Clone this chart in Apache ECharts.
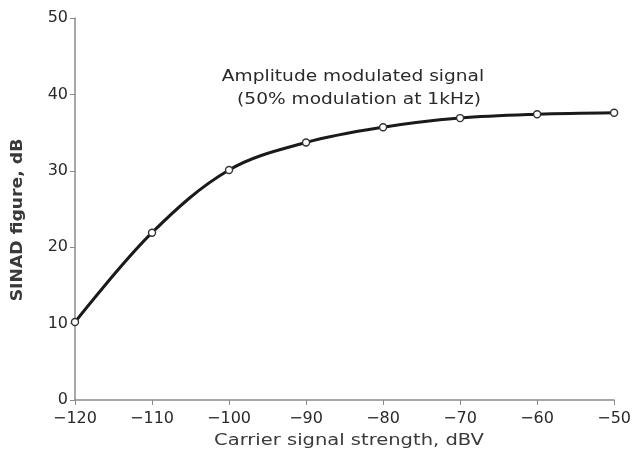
<!DOCTYPE html>
<html>
<head>
<meta charset="utf-8">
<script src="https://cdn.jsdelivr.net/npm/echarts@6/dist/echarts.min.js"></script>
<style>
  html, body { margin: 0; padding: 0; background: #fff; }
  #chart { width: 634px; height: 452px; }
</style>
</head>
<body>
<div id="chart"></div>
<script>
// Carrier signal strength (dBV) and measured SINAD (dB)
const carrierLevels = [-120, -110, -100, -90, -80, -70, -60, -50];
const sinadValues = [10.2, 21.9, 30.1, 33.7, 35.7, 36.9, 37.4, 37.6];
const noteLines = ['Amplitude modulated signal', '(50% modulation at 1kHz)'];
const xAxisTitle = 'Carrier signal strength, dBV';
const yAxisTitle = 'SINAD figure, dB';

const FONT = '"DejaVu Sans", sans-serif';
const INK = '#2a2a2a';
const AXIS = '#8a8a8a';

const fmtMinus = v => String(v).replace('-', '\u2212');

// wide lettering: text stretched horizontally around its anchor
function wideText(text, x, y, opts) {
  return Object.assign({
    type: 'text',
    x: x, y: y,
    scaleX: 1.25,
    style: {
      text: text,
      font: '15px ' + FONT,
      fill: INK,
      align: 'center',
      verticalAlign: 'middle'
    }
  }, opts || {});
}

const chart = echarts.init(document.getElementById('chart'));
chart.setOption({
  animation: false,
  backgroundColor: '#ffffff',
  grid: { left: 75, right: 18, top: 18, bottom: 52 },
  xAxis: {
    type: 'value',
    min: -120, max: -50, interval: 10,
    axisLine: { lineStyle: { color: AXIS, width: 1.5 } },
    axisTick: { length: 5, lineStyle: { color: AXIS } },
    axisLabel: { fontFamily: FONT, fontSize: 16, color: INK, margin: 11, formatter: fmtMinus },
    splitLine: { show: false }
  },
  yAxis: {
    type: 'value',
    min: 0, max: 50, interval: 10,
    axisLine: { show: true, lineStyle: { color: AXIS, width: 1.5 } },
    axisTick: { show: true, length: 5, lineStyle: { color: AXIS } },
    axisLabel: { fontFamily: FONT, fontSize: 16, color: INK, margin: 7 },
    splitLine: { show: false }
  },
  series: [{
    type: 'line',
    data: carrierLevels.map((x, i) => [x, sinadValues[i]]),
    smooth: 0.35,
    symbol: 'circle',
    symbolSize: 7,
    lineStyle: { color: '#1a1a1a', width: 3 },
    itemStyle: { color: '#ffffff', borderColor: '#333', borderWidth: 1.4 },
    z: 3
  }],
  graphic: [
    wideText(noteLines[0], 353, 77, { scaleX: 1.24 }),
    wideText(noteLines[1], 359, 100, { scaleX: 1.24 }),
    wideText(xAxisTitle, 349, 441, { scaleX: 1.3, style: {
      text: xAxisTitle, font: '15px ' + FONT, fill: '#3a3a3a', align: 'center', verticalAlign: 'middle'
    } }),
    wideText(yAxisTitle, 18, 220, { scaleX: 1.15, rotation: Math.PI / 2, style: {
      text: yAxisTitle, font: 'bold 15px ' + FONT, fill: '#3a3a3a', align: 'center', verticalAlign: 'middle'
    } })
  ]
});
</script>
</body>
</html>
